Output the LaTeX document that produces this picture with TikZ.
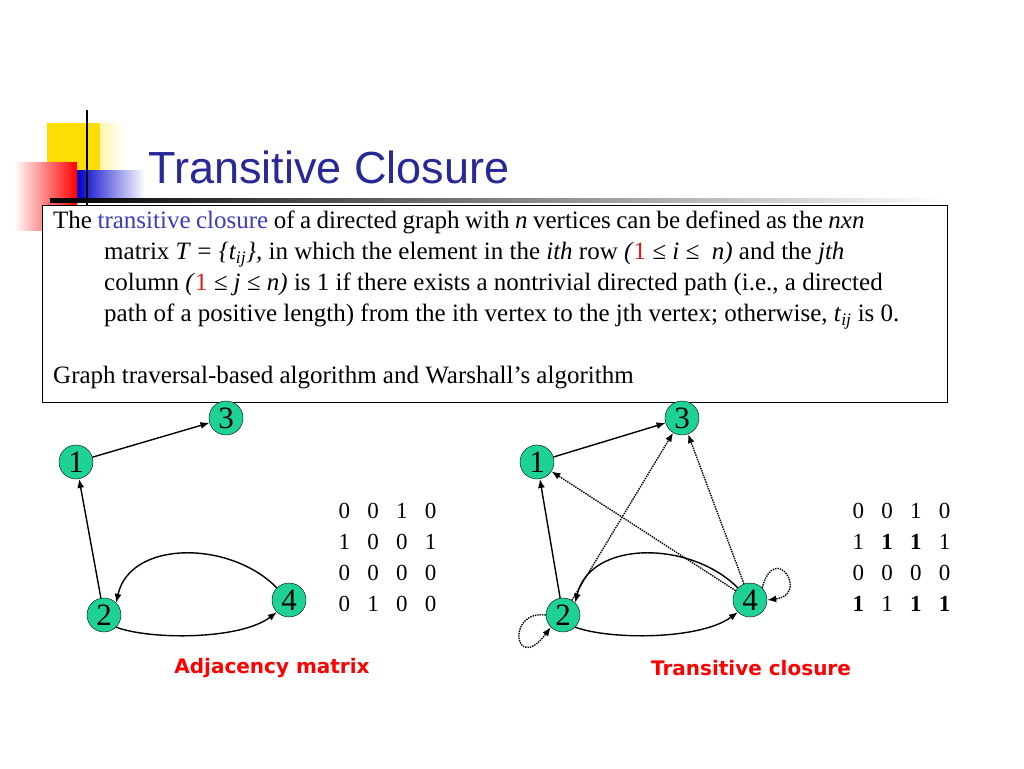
\documentclass[tikz,border=0pt]{standalone}
\usepackage{fontspec}
\setmainfont{Liberation Serif}
\newfontfamily\titlefont{Liberation Sans}
\newfontfamily\labelfont{DejaVu Sans}
\usetikzlibrary{arrows.meta}
\definecolor{titleblue}{RGB}{40,40,150}
\definecolor{vgreen}{RGB}{30,210,150}
\definecolor{tcblue}{RGB}{60,60,190}
\definecolor{tcred}{RGB}{220,30,30}
\tikzset{
    vertex/.style={circle,draw=black,fill=vgreen,minimum size=34pt,inner sep=0pt,font=\fontsize{31}{31}\selectfont},
    arc/.style={line width=1.4pt,-{Latex[length=9pt,width=7pt]}},
    closure/.style={arc,densely dotted},
    caption/.style={text=red,font=\labelfont\bfseries\fontsize{20}{22}\selectfont},
    matrixtext/.style={align=left,anchor=north west,font=\fontsize{23}{31}\selectfont}
}
\begin{document}
\begin{tikzpicture}[x=1pt,y=-1pt]
\useasboundingbox (0,0) rectangle (1024,768);
% logo blocks
\shade[left color=yellow!80!orange,right color=white] (47,123) rectangle (125,186);
\fill[yellow!80!orange] (47,123) rectangle (100,186);
\shade[left color=blue!80!black,right color=white] (77,170) rectangle (145,200);
\shade[left color=white,right color=red] (14,162) rectangle (77,230);
\draw[line width=2.5pt] (87,110) -- (87,212);
\shade[left color=black,right color=white] (50,198) rectangle (947,202);
\node[anchor=base west,text=titleblue,font=\titlefont\fontsize{45}{45}\selectfont] (title) at (145,183) {Transitive Closure};
% definition box
\node[draw,line width=1pt,fill=white,anchor=north west,minimum width=905pt,minimum height=197pt,inner sep=0pt] (box) at (42,205) {};
\node[anchor=north west,align=left,inner sep=0pt,font=\fontsize{25}{31}\selectfont] (deftext) at (53,211)
{\spaceskip=0.22em plus 0.1em The {\color{tcblue}transitive closure} of a directed graph with \textit{n} vertices can be defined as the \textit{nxn}\\
\hspace*{51pt}matrix \textit{T = \{t\textsubscript{ij}\},} in which the element in the \textit{ith} row \textit{(}{\color{tcred}1} \textit{≤ i ≤\ \ n)} and the \textit{jth}\\
\hspace*{51pt}column \textit{(}{\color{tcred}1} \textit{≤ j ≤ n)} is 1 if there exists a nontrivial directed path (i.e., a directed\\
\hspace*{51pt}path of a positive length) from the ith vertex to the jth vertex; otherwise, \textit{t}\textsubscript{\textit{ij}} is 0.\\[31pt]
Graph traversal-based algorithm and Warshall’s algorithm};
% adjacency graph
\node[vertex] (a1) at (76,462) {1};
\node[vertex] (a3) at (226,418) {3};
\node[vertex] (a2) at (104,615) {2};
\node[vertex] (a4) at (289,600) {4};
\draw[arc] (a2) -- (a1);
\draw[arc] (a1) -- (a3);
\draw[arc] (a2.south east) .. controls (150,640) and (240,640) .. (a4.south west);
\draw[arc] (a4.north west) .. controls (230,540) and (130,540) .. (a2.north east);
\node[matrixtext] (amat) at (335,500)
{0\ \ \ 0\ \ \ 1\ \ \ 0\\1\ \ \ 0\ \ \ 0\ \ \ 1\\0\ \ \ 0\ \ \ 0\ \ \ 0\\0\ \ \ 1\ \ \ 0\ \ \ 0};
\node[caption] (acap) at (272,668) {Adjacency matrix};
% transitive closure graph
\node[vertex] (t1) at (537,462) {1};
\node[vertex] (t3) at (682,418) {3};
\node[vertex] (t2) at (563,615) {2};
\node[vertex] (t4) at (750,600) {4};
\draw[arc] (t2) -- (t1);
\draw[arc] (t1) -- (t3);
\draw[arc] (t2.south east) .. controls (610,640) and (700,640) .. (t4.south west);
\draw[arc] (t4.north west) .. controls (690,540) and (590,540) .. (t2.north east);
\draw[closure] (t2) -- (t3);
\draw[closure] (t4) -- (t3);
\draw[closure] (t4) -- (t1);
\draw[closure] (t2.west) .. controls (505,610) and (515,675) .. (t2.south west);
\draw[closure] (t4.north east) .. controls (775,540) and (810,595) .. (t4.east);
\node[matrixtext] (tmat) at (849,500)
{0\ \ \ 0\ \ \ 1\ \ \ 0\\1\ \ \ \textbf{1}\ \ \ \textbf{1}\ \ \ 1\\0\ \ \ 0\ \ \ 0\ \ \ 0\\\textbf{1}\ \ \ 1\ \ \ \textbf{1}\ \ \ \textbf{1}};
\node[caption] (tcap) at (751,668) {Transitive closure};
\end{tikzpicture}
\end{document}
